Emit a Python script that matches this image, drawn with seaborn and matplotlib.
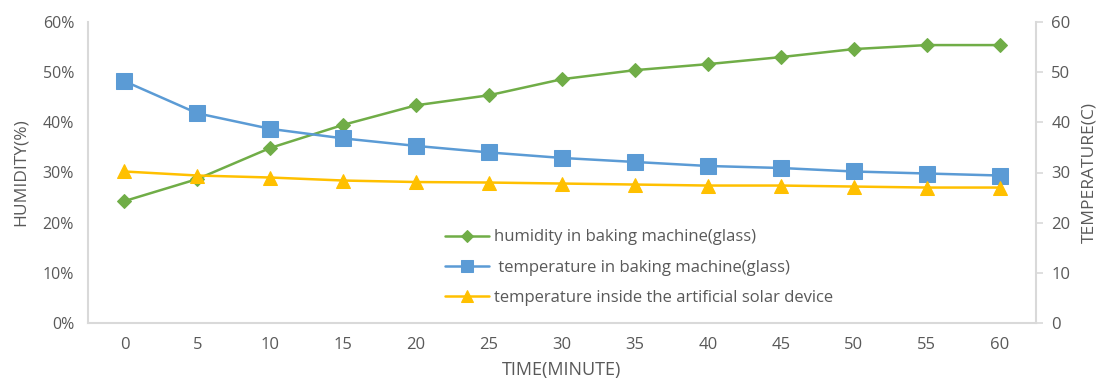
import matplotlib
matplotlib.use("Agg")
import matplotlib.pyplot as plt
import seaborn as sns
import pandas as pd
from matplotlib.ticker import FuncFormatter

time_min = [0, 5, 10, 15, 20, 25, 30, 35, 40, 45, 50, 55, 60]
humidity = [24.3, 28.7, 34.9, 39.5, 43.4, 45.4, 48.6, 50.4, 51.6, 53.0, 54.6, 55.4, 55.4]
temp_machine = [48.2, 41.8, 38.7, 36.8, 35.3, 34.0, 32.9, 32.1, 31.3, 30.9, 30.2, 29.8, 29.4]
temp_solar = [30.2, 29.4, 29.0, 28.4, 28.1, 28.0, 27.8, 27.6, 27.4, 27.4, 27.2, 27.0, 27.0]

lab_h = "humidity in baking machine(glass)"
lab_t = " temperature in baking machine(glass)"
lab_s = "temperature inside the artificial solar device"

sns.set_theme(style="white")
plt.rcParams['font.family'] = ['Open Sans', 'DejaVu Sans']

TXT = "#595959"
SPINE = "#D9D9D9"
GREEN = "#70AD47"
BLUE = "#5B9BD5"
YELLOW = "#FFC000"

pos = list(range(len(time_min)))
df = pd.DataFrame({"pos": pos, "humidity": humidity,
                   "tm": temp_machine, "ts": temp_solar})

fig = plt.figure(figsize=(11.01, 3.83), dpi=100)
ax = fig.add_axes([88/1101, 1-323/383, (1036-88)/1101, (323-22)/383])
ax2 = ax.twinx()

sns.lineplot(data=df, x="pos", y="humidity", ax=ax, color=GREEN, marker="D",
             markersize=7, linewidth=1.8, markeredgecolor=GREEN, label=lab_h, legend=False)
sns.lineplot(data=df, x="pos", y="tm", ax=ax2, color=BLUE, marker="s",
             markersize=11, linewidth=1.8, markeredgecolor=BLUE, label=lab_t, legend=False)
sns.lineplot(data=df, x="pos", y="ts", ax=ax2, color=YELLOW, marker="^",
             markersize=10, linewidth=1.8, markeredgecolor=YELLOW, label=lab_s, legend=False)

for a in (ax, ax2):
    a.set_xlim(-0.5, len(time_min) - 0.5)
    a.set_ylim(0, 60)
    for s in a.spines.values():
        s.set_visible(False)

ax.spines['left'].set_visible(True)
ax.spines['left'].set_color(SPINE)
ax.spines['bottom'].set_visible(True)
ax.spines['bottom'].set_color(SPINE)
ax2.spines['right'].set_visible(True)
ax2.spines['right'].set_color(SPINE)
for s in ('left', 'bottom'):
    ax.spines[s].set_linewidth(1.5)
ax2.spines['right'].set_linewidth(1.5)

ax.set_yticks(range(0, 61, 10))
ax.yaxis.set_major_formatter(FuncFormatter(lambda v, p: f"{int(v)}%"))
ax2.set_yticks(range(0, 61, 10))
ax.set_xticks(pos)
ax.set_xticklabels([str(t) for t in time_min])

ax.tick_params(axis='y', length=0, pad=10, labelsize=11.5, labelcolor=TXT)
ax.tick_params(axis='x', length=0, pad=10, labelsize=12, labelcolor=TXT)
ax2.tick_params(axis='y', length=5, width=1.2, color=SPINE, pad=6, labelsize=12, labelcolor=TXT)

ax.set_xlabel("TIME(MINUTE)", fontsize=13, color=TXT, labelpad=6)
ax.set_ylabel("HUMIDITY(%)", fontsize=12.5, color=TXT, labelpad=10)
ax2.set_ylabel("TEMPERATURE(C)", fontsize=12.5, color=TXT, labelpad=8)

h1, l1 = ax.get_legend_handles_labels()
h2, l2 = ax2.get_legend_handles_labels()
leg = ax2.legend(h1 + h2, l1 + l2, loc="upper left", bbox_to_anchor=(0.37, 0.333),
                 frameon=False, fontsize=12, labelcolor=TXT, handlelength=2.6,
                 handletextpad=0.3, labelspacing=0.85, borderaxespad=0,
                 markerscale=0.85)

fig.savefig("out.png", dpi=100)
